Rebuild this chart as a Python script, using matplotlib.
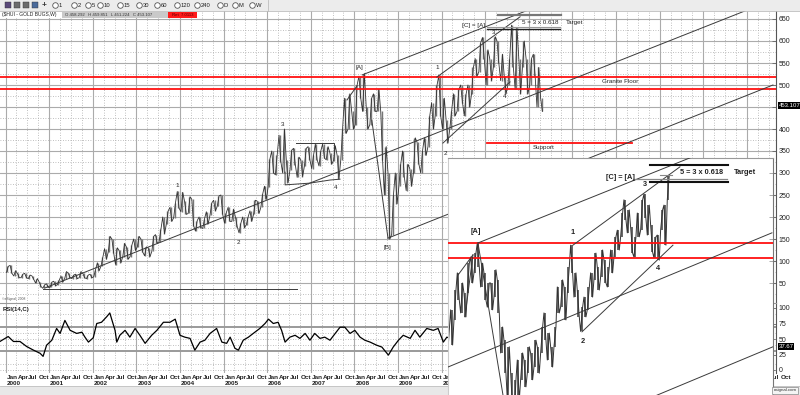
import matplotlib
matplotlib.use("Agg")
import matplotlib.pyplot as plt
import matplotlib.transforms as mtransforms
from matplotlib.patches import Rectangle

plt.rcParams["font.family"] = ["Liberation Sans", "DejaVu Sans"]

# monthly high / low of the weekly $HUI bars, Jan 2000 .. Apr 2012
hui_high = [
    88, 90, 78, 72, 70, 72, 68, 66, 60, 52, 46, 48,              # 2000
    52, 54, 56, 66, 76, 72, 68, 70, 76, 72, 68, 70,              # 2001
    80, 96, 108, 128, 156, 150, 130, 124, 140, 132, 136, 150,    # 2002
    156, 150, 132, 130, 156, 160, 172, 200, 214, 222, 232, 258,  # 2003
    256, 236, 246, 240, 192, 200, 196, 212, 232, 238, 248, 250,  # 2004
    210, 222, 218, 200, 186, 200, 200, 214, 238, 236, 252, 270,  # 2005
    332, 350, 340, 386, 400, 330, 352, 356, 336, 330, 356, 360,  # 2006
    340, 366, 350, 366, 360, 346, 362, 340, 400, 470, 480, 440,  # 2007
    500, 520, 526, 450, 470, 480, 490, 440, 360, 300, 250, 300,  # 2008
    320, 350, 320, 310, 380, 370, 350, 380, 430, 460, 500, 522,  # 2009
    470, 420, 440, 480, 490, 500, 480, 500, 540, 560, 596, 608,  # 2010
    580, 560, 610, 600, 570, 520, 560, 636, 630, 560, 600, 560,  # 2011
    560, 570, 540, 470,                                          # 2012
]
hui_low = [
    74, 72, 66, 62, 62, 62, 60, 58, 50, 42, 38, 40,
    40, 44, 46, 52, 60, 62, 60, 60, 62, 62, 60, 62,
    64, 78, 88, 104, 120, 118, 92, 96, 110, 104, 110, 124,
    132, 120, 112, 110, 122, 140, 144, 162, 184, 190, 198, 220,
    212, 206, 208, 180, 168, 176, 174, 184, 204, 214, 224, 206,
    186, 190, 190, 178, 164, 176, 182, 190, 206, 208, 222, 240,
    268, 300, 296, 326, 300, 278, 306, 318, 290, 292, 316, 330,
    310, 330, 316, 334, 330, 320, 328, 286, 330, 390, 400, 400,
    410, 470, 440, 400, 410, 440, 440, 330, 250, 150, 160, 230,
    270, 290, 260, 270, 300, 320, 300, 340, 360, 400, 430, 430,
    400, 368, 400, 430, 440, 460, 430, 450, 480, 520, 530, 560,
    500, 510, 540, 550, 510, 480, 500, 540, 490, 480, 540, 480,
    500, 520, 450, 440,
]
last_close = 453.107

# RSI(14,C) readings (decimal year, value)
rsi_time = [
    1999.87, 2000.06, 2000.18, 2000.33, 2000.48, 2000.64, 2000.79, 2000.86, 2000.94,
    2001.06, 2001.17, 2001.25, 2001.36, 2001.48, 2001.63, 2001.75, 2001.82, 2001.90,
    2002.01, 2002.09, 2002.20, 2002.32, 2002.39, 2002.51, 2002.55, 2002.62, 2002.74, 2002.85, 2002.97,
    2003.08, 2003.20, 2003.35, 2003.47, 2003.62, 2003.77, 2003.89,
    2004.00, 2004.11, 2004.23, 2004.34, 2004.46, 2004.57, 2004.69, 2004.84, 2004.96,
    2005.07, 2005.15, 2005.26, 2005.34, 2005.45, 2005.57, 2005.68, 2005.83, 2005.95,
    2006.03, 2006.14, 2006.25, 2006.33, 2006.41, 2006.52, 2006.64, 2006.75, 2006.87, 2006.98,
    2007.09, 2007.21, 2007.32, 2007.44, 2007.56, 2007.67, 2007.78, 2007.90,
    2008.01, 2008.13, 2008.24, 2008.36, 2008.51, 2008.63, 2008.78, 2008.89,
    2009.01, 2009.12, 2009.28, 2009.39, 2009.50, 2009.66, 2009.81, 2009.92,
    2010.04, 2010.12, 2010.19,
]
rsi_value = [
    46, 54, 46, 46, 38, 32, 27, 22, 40,
    48, 67, 59, 80, 64, 59, 61, 53, 45,
    52, 75, 77, 86, 92, 64, 45, 56, 64, 53, 67,
    56, 43, 56, 64, 77, 77, 82,
    56, 53, 51, 32, 45, 48, 59, 67, 45,
    43, 53, 35, 32, 48, 53, 59, 67, 75,
    82, 75, 77, 64, 45, 53, 56, 51, 59, 48,
    59, 51, 53, 48, 59, 69, 69, 59,
    64, 53, 48, 45, 40, 37, 24, 37,
    48, 56, 51, 64, 53, 67, 64, 67,
    45, 53, 51,
]
rsi_last = 37.67

# pasted analog chart: bar highs / lows on the same price scale
analog_high = [
    -57, -11, 34, 73, 50, 27, 95, 109, 118, 141, 95, 73, 50, 50, 80, 57, -50, -80, -95, -155,
    -170, -125, -109, -125, -95, -109, -80, -95, -50, -18, -64, -95, -50, 41, 57, 41, 86, 136, 73, 34,
    -5, 18, 41, 73, 118, 86, 125, 102, 86, 125, 155, 170, 209, 239, 216, 177, 155, 209, 239, 252,
    227, 182, 155, 159, 216, 227, 295,
]
analog_low = [
    -125, -91, -34, 11, -18, -27, 27, 50, 73, 86, 41, 11, -5, -11, 18, -18, -109, -155, -215, -239,
    -261, -216, -170, -186, -155, -170, -141, -155, -109, -80, -125, -141, -95, -18, -5, -34, 27, 73, 18, -27,
    -60, -27, -11, 18, 57, 34, 64, 50, 41, 73, 109, 125, 155, 193, 164, 118, 109, 155, 170, 198,
    159, 120, 107, 102, 170, 136, 239,
]

# annotations on the weekly chart
granite_floor = [492, 519]
support_level = (2011.04, 2014.37, 368)
main_lines = [
    ((2000.90, 38.6), (2017.00, 670)),
    ((2008.77, 152), (2017.60, 500)),
    ((2008.18, 523), (2011.98, 670)),
    ((2009.89, 518), (2011.80, 655)),
    ((2010.03, 368), (2011.57, 507)),
    ((2008.40, 420), (2008.77, 152)),
    ((2007.83, 466), (2008.06, 498)),
    ((2000.86, 36), (2006.68, 36)),
]
wave4_box = [
    [(2006.66, 368), (2007.53, 368), (2007.53, 350)],
    [(2006.41, 302), (2006.41, 273), (2006.98, 277), (2007.44, 284), (2007.67, 286)],
]
main_targets = [(2011.29, 2012.74, 658, "#777777", 1.6),
                (2011.04, 2012.72, 632, "#999999", 0.8),
                (2011.04, 2012.72, 627, "#222222", 1.0)]
main_labels = [
    ("1", 2003.93, 272.7), ("2", 2005.33, 143), ("3", 2006.34, 411), ("4", 2007.58, 266),
    ("[A]", 2008.11, 539), ("[B]", 2008.75, 130), ("1", 2009.90, 539), ("2", 2010.08, 345),
    ("3", 2011.20, 620), ("4", 2011.45, 475), ("[C] = [A]", 2010.74, 636),
    ("5 = 3 x 0.618", 2012.26, 641), ("Target", 2013.06, 643),
    ("Granite Floor", 2014.09, 507), ("Support", 2012.35, 359),
]

# annotations on the analog chart (bar index, price)
analog_red = [106, 141.6]
analog_lines = [
    ((8.9, 141), (75, 342)),
    ((37.4, 136), (69.5, 314)),
    ((40.1, -61), (67.4, 136)),
    ((-0.1, -141), (97.1, 164)),
    ((55, -229), (97.4, -95)),
    ((8.9, 141), (18, -278)),
    ((2.9, 68), (7.4, 114)),
    ((5.0, -27), (7.4, 114)),
]
analog_targets = [(60.5, 83.9, 319, "#111111", 1.5),
                  (55.4, 83.6, 286, "#888888", 0.9),
                  (60.5, 83.9, 280, "#111111", 1.5),
                  (63.5, 67.1, 295, "#888888", 0.8)]
analog_labels = [
    ("[A]", 8.3, 168), ("1", 37.4, 164), ("2", 40.4, -84), ("3", 59, 273), ("4", 62.9, 84),
    ("[C] = [A]", 51.5, 289), ("5 = 3 x 0.618", 76.1, 300), ("Target", 89, 302),
]

toolbar_items = ["1", "2", "5", "10", "15", "30", "60", "120", "240", "D", "M", "W"]
toolbar_x = [55, 74, 88, 100, 120, 139, 157, 177, 197, 220, 235, 252]

# pixel geometry of the eSignal window
FIG_W, FIG_H = 800, 395
PX_PER_YEAR, X_JAN2000 = 43.6, 5.6
PX_PER_POINT, Y_350 = 0.44, 151
PX_PER_RSI, Y_RSI0 = 0.62, 370
PX_PER_BAR, X_BAR0 = 3.333, 448.3
GRID = "#ababab"
INK = "#222222"


def year_at(x):
    return 2000 + (x - X_JAN2000) / PX_PER_YEAR


def price_at(y):
    return 350 + (Y_350 - y) / PX_PER_POINT


def rsi_at(y):
    return (Y_RSI0 - y) / PX_PER_RSI


def bar_at(x):
    return (x - X_BAR0) / PX_PER_BAR


def axes_px(fig, x0, y0, x1, y1):
    return fig.add_axes([x0 / FIG_W, 1 - y1 / FIG_H, (x1 - x0) / FIG_W, (y1 - y0) / FIG_H])


def year_grid(ax):
    ax.set_xticks(range(2000, 2018))
    ax.set_xticks([y + q for y in range(1999, 2018) for q in (0.25, 0.5, 0.75)], minor=True)
    ax.grid(True, which="major", axis="x", color=GRID, lw=0.8)
    ax.grid(True, which="minor", axis="x", color=GRID, lw=0.6, ls=(0, (1, 2)))
    ax.tick_params(axis="x", which="both", length=0, labelbottom=False)
    ax.set_axisbelow(True)


def right_axis(ax):
    for side in ("top", "left", "bottom"):
        ax.spines[side].set_visible(False)
    ax.spines["right"].set_color("#555555")
    ax.spines["right"].set_linewidth(0.8)
    ax.yaxis.tick_right()
    ax.tick_params(axis="y", which="major", direction="in", length=3, width=0.6,
                   color="#666666", labelsize=5, labelcolor=INK, pad=2)
    ax.tick_params(axis="y", which="minor", length=0)


def zigzag(xs, lows, highs, half):
    px, py = [], []
    for i, (x, lo, hi) in enumerate(zip(xs, lows, highs)):
        px += [x - half, x + half]
        py += [lo, hi] if i % 2 == 0 else [hi, lo]
    return px, py


fig = plt.figure(figsize=(FIG_W / 100, FIG_H / 100), dpi=100)

# ---- weekly price panel ----
ax = axes_px(fig, 0, 11, 776, 303)
ax.set_zorder(1)
year_grid(ax)
price_ticks = list(range(0, 701, 50))
ax.set_yticks(price_ticks)
# 0 is off-panel, 450 sits under the last-close box
ax.set_yticklabels(["" if v in (0, 450) else str(v) for v in price_ticks])
ax.set_yticks(range(25, 701, 50), minor=True)
ax.grid(True, which="major", axis="y", color=GRID, lw=0.8)
ax.grid(True, which="minor", axis="y", color=GRID, lw=0.6, ls=(0, (1, 2)))
right_axis(ax)
ax.set_xlim(year_at(0), year_at(776))
ax.set_ylim(price_at(303), price_at(11))

months = [2000 + (i + 0.5) / 12 for i in range(len(hui_high))]
ax.vlines(months, hui_low, hui_high, color="#777777", lw=1.0, zorder=2)
zx, zy = zigzag(months, hui_low, hui_high, 1 / 48)
ax.plot(zx, zy, color="#333333", lw=0.6, zorder=2)

for level in granite_floor:
    ax.axhline(level, color="#ff1010", lw=1.3, zorder=3)
t0, t1, lvl = support_level
ax.plot([t0, t1], [lvl, lvl], color="#ff1010", lw=1.3, zorder=3)
for (a, b) in main_lines:
    ax.plot([a[0], b[0]], [a[1], b[1]], color="#3a3a3a", lw=0.7, zorder=3)
for poly in wave4_box:
    ax.plot([p[0] for p in poly], [p[1] for p in poly], color="#3a3a3a", lw=0.7, zorder=3)
for t0, t1, lvl, col, lw in main_targets:
    ax.plot([t0, t1], [lvl, lvl], color=col, lw=lw, zorder=3)
for text, t, v in main_labels:
    ax.text(t, v, text, fontsize=4.5, color=INK, ha="center", va="center", zorder=4)

box_tr = mtransforms.blended_transform_factory(ax.transAxes, ax.transData)
ax.text(1.003, last_close, f"{last_close:.3f}", transform=box_tr, fontsize=4.3, color="white",
        ha="left", va="center", clip_on=False,
        bbox=dict(boxstyle="square,pad=0.12", fc="black", ec="none"))

# ---- RSI panel ----
rax = axes_px(fig, 0, 303, 776, 373)
rax.set_zorder(1)
year_grid(rax)
rax.set_yticks([0, 25, 50, 75, 100])
right_axis(rax)
rax.set_xlim(year_at(0), year_at(776))
rax.set_ylim(rsi_at(373), rsi_at(303))
rax.spines["top"].set_visible(True)
rax.spines["top"].set_color("#999999")
for lvl in (30, 70):
    rax.axhline(lvl, color="#9a9a9a", lw=1.4, zorder=1)
for lvl in (0, 10, 40, 50, 60, 90):
    rax.axhline(lvl, color=GRID, lw=0.6, ls=(0, (1, 2)), zorder=1)
rax.plot(rsi_time, rsi_value, color="black", lw=0.9, zorder=3)
rax.text(0.003, 0.9, "RSI(14,C)", transform=rax.transAxes, fontsize=4.3,
         fontweight="bold", color=INK, va="center")
rbox_tr = mtransforms.blended_transform_factory(rax.transAxes, rax.transData)
rax.text(1.003, rsi_last, f"{rsi_last:.2f}", transform=rbox_tr, fontsize=4.3, color="white",
         ha="left", va="center", clip_on=False,
         bbox=dict(boxstyle="square,pad=0.12", fc="black", ec="none"))

lab_tr = mtransforms.blended_transform_factory(rax.transData, rax.transAxes)
for year in range(2000, 2018):
    for q, name in enumerate(["Jan", "Apr", "Jul", "Oct"]):
        rax.text(year + q / 4 + 0.02, -0.06, name, transform=lab_tr, fontsize=4.6,
                 fontweight="bold", color=INK, ha="left", va="center", clip_on=False)
    rax.text(year + 0.02, -0.145, str(year), transform=lab_tr, fontsize=4.6,
             fontweight="bold", color=INK, ha="left", va="center", clip_on=False)

# ---- pasted analog chart ----
ins = axes_px(fig, 448, 158, 773, 395)
ins.set_zorder(2)
ins.set_facecolor("white")
ins.spines["bottom"].set_visible(False)
ins.spines["top"].set_color("#999999")
ins.spines["left"].set_color("#cccccc")
ins.spines["right"].set_color("#777777")
for sp in ins.spines.values():
    sp.set_linewidth(0.8)
ins.set_xticks([])
ins.yaxis.tick_right()
ins.set_yticks(range(50, 301, 50))
ins.tick_params(axis="y", direction="in", length=3, width=0.6, color="#999999", labelright=False)
ins.set_xlim(bar_at(448), bar_at(773))
ins.set_ylim(price_at(395), price_at(158))

bars = list(range(len(analog_high)))
ins.vlines(bars, analog_low, analog_high, color="#666666", lw=1.4, zorder=2)
bx, by = zigzag(bars, analog_low, analog_high, 0.3)
ins.plot(bx, by, color="#333333", lw=0.7, zorder=2)
for level in analog_red:
    ins.axhline(level, color="#ff1010", lw=1.3, zorder=3)
for (a, b) in analog_lines:
    ins.plot([a[0], b[0]], [a[1], b[1]], color="#3a3a3a", lw=0.7, zorder=3)
for b0, b1, lvl, col, lw in analog_targets:
    ins.plot([b0, b1], [lvl, lvl], color=col, lw=lw, zorder=3)
for text, b, v in analog_labels:
    ins.text(b, v, text, fontsize=5.3, fontweight="bold", color=INK,
             ha="center", va="center", zorder=4)

# ---- window chrome ----
under = fig.add_axes([0, 0, 1, 1])
under.set_zorder(0)
under.set_xlim(0, FIG_W)
under.set_ylim(FIG_H, 0)
under.axis("off")
under.add_patch(Rectangle((0, 386), FIG_W, 9, fc="#e8e8e8", ec="none"))
under.plot([0, FIG_W], [386, 386], color="#c0c0c0", lw=0.6)

top = fig.add_axes([0, 0, 1, 1])
top.set_zorder(5)
top.patch.set_alpha(0)
top.set_xlim(0, FIG_W)
top.set_ylim(FIG_H, 0)
top.axis("off")
top.add_patch(Rectangle((0, 0), FIG_W, 10.5, fc="#ececec", ec="none"))
top.plot([0, FIG_W], [10.5, 10.5], color="#bdbdbd", lw=0.6)
top.plot([268, 268], [0, 10.5], color="#bdbdbd", lw=0.6)
for x, col in zip([5, 14, 23, 32], ["#5b4a7a", "#6c6c6c", "#6c6c6c", "#4a6a9a"]):
    top.add_patch(Rectangle((x, 2.2), 6, 6, fc=col, ec="#333333", lw=0.3))
top.text(44, 5.3, "+", fontsize=6, fontweight="bold", color="#333333", ha="center", va="center")
for cx, item in zip(toolbar_x, toolbar_items):
    top.plot(cx, 5.3, "o", ms=4.0, mfc="white", mec="#555555", mew=0.6)
    top.text(cx + 3.5, 5.3, item, fontsize=4.2, color=INK, ha="left", va="center")

top.add_patch(Rectangle((0, 11), 62, 7, fc="white", ec="none"))
top.text(1.5, 14.5, "($HUI - GOLD BUGS,W)", fontsize=3.6, color=INK, va="center")
top.add_patch(Rectangle((62, 11.5), 106, 6, fc="#c9c9c9", ec="none"))
top.text(65, 14.5, "O 458.292   H 459.851   L 451.224   C 453.107", fontsize=3.1,
         color="#333333", va="center")
top.add_patch(Rectangle((168, 11.5), 29, 6, fc="#ff1a1a", ec="none"))
top.text(172, 14.5, "Ret  7.0113", fontsize=3.1, color="#550000", va="center")
top.text(2, 299, "\u00a9eSignal, 2008", fontsize=2.4, color="#555555", va="center")
top.add_patch(Rectangle((772, 387), 26, 6.5, fc="#f4f4f4", ec="#888888", lw=0.5))
top.text(785, 390.3, "esignal.com", fontsize=3.2, color="#333333", ha="center", va="center")

fig.savefig("out.png", dpi=100)
